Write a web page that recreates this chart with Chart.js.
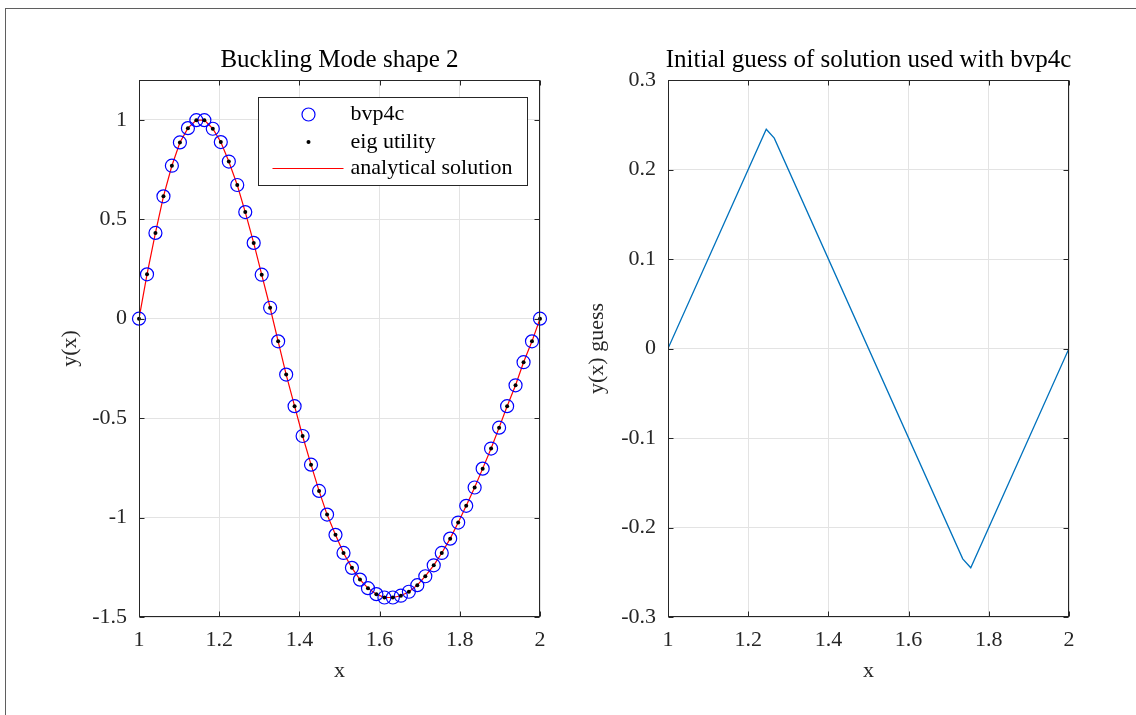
<!DOCTYPE html>
<html>
<head>
<meta charset="utf-8">
<title>Buckling mode shape</title>
<script src="https://cdn.jsdelivr.net/npm/chart.js@4.4.1/dist/chart.umd.min.js"></script>
<style>
    html, body { margin: 0; padding: 0; background: #fff; }
    body { width: 1136px; height: 715px; position: relative; overflow: hidden; }
    #frame { position: absolute; left: 5px; top: 8px; width: 1300px; height: 900px;
             border-left: 1px solid #5f5f5f; border-top: 1px solid #5f5f5f; }
    canvas { position: absolute; top: 0; }
</style>
</head>
<body>
<div id="frame"></div>
<canvas id="modeChart" width="568" height="715" style="left:0"></canvas>
<canvas id="guessChart" width="577" height="715" style="left:580px"></canvas>
<script>
// mesh used by bvp4c / eig (50 points between 1 and 2)
const meshX = [1.000, 1.020, 1.041, 1.061, 1.082, 1.102, 1.122, 1.143, 1.163, 1.184,
               1.204, 1.224, 1.245, 1.265, 1.286, 1.306, 1.327, 1.347, 1.367, 1.388,
               1.408, 1.429, 1.449, 1.469, 1.490, 1.510, 1.531, 1.551, 1.571, 1.592,
               1.612, 1.633, 1.653, 1.673, 1.694, 1.714, 1.735, 1.755, 1.776, 1.796,
               1.816, 1.837, 1.857, 1.878, 1.898, 1.918, 1.939, 1.959, 1.980, 2.000];
// the three solutions sit on top of each other in the picture
const modeY = [0.000, 0.223, 0.431, 0.615, 0.769, 0.886, 0.958, 0.998, 0.998, 0.955,
               0.888, 0.790, 0.672, 0.536, 0.381, 0.221, 0.055, -0.114, -0.281, -0.440,
               -0.590, -0.734, -0.866, -0.985, -1.087, -1.178, -1.253, -1.312, -1.355, -1.385,
               -1.402, -1.402, -1.393, -1.373, -1.340, -1.295, -1.240, -1.178, -1.106, -1.025,
               -0.941, -0.849, -0.754, -0.653, -0.548, -0.440, -0.335, -0.219, -0.114, 0.000];

const guessX = [1, 1.245, 1.265, 1.735, 1.755, 2];
const guessY = [0, 0.245, 0.235, -0.235, -0.245, 0];

const xTicks = [1, 1.2, 1.4, 1.6, 1.8, 2];
const modeYTicks = [-1.5, -1, -0.5, 0, 0.5, 1];
const guessYTicks = [-0.3, -0.2, -0.1, 0, 0.1, 0.2, 0.3];

const seriesNames = ['bvp4c', 'eig utility', 'analytical solution'];

const AXIS_COLOR = '#262626';
const GRID_COLOR = '#e3e3e3';
const FONT = "'Liberation Serif', 'Times New Roman', serif";

Chart.defaults.font.family = FONT;
Chart.defaults.font.size = 22;
Chart.defaults.color = AXIS_COLOR;

function toPoints(xs, ys) {
    return xs.map((x, i) => ({ x: x, y: ys[i] }));
}

// box round the axes, inward ticks on all four sides, optional legend
const matlabAxes = {
    id: 'matlabAxes',
    afterDatasetsDraw(chart) {
        const { ctx, chartArea: a, scales: { x, y } } = chart;
        const left = Math.round(a.left) + 0.5, right = Math.round(a.right) - 0.5;
        const top = Math.round(a.top) + 0.5, bottom = Math.round(a.bottom) - 0.5;
        ctx.save();
        ctx.strokeStyle = AXIS_COLOR;
        ctx.lineWidth = 1;
        ctx.beginPath();
        x.ticks.forEach(t => {
            const px = Math.round(x.getPixelForValue(t.value)) + 0.5;
            ctx.moveTo(px, bottom); ctx.lineTo(px, bottom - 5);
            ctx.moveTo(px, top); ctx.lineTo(px, top + 5);
        });
        y.ticks.forEach(t => {
            const py = Math.round(y.getPixelForValue(t.value)) + 0.5;
            ctx.moveTo(left, py); ctx.lineTo(left + 5, py);
            ctx.moveTo(right, py); ctx.lineTo(right - 5, py);
        });
        ctx.stroke();
        ctx.strokeRect(left, top, right - left, bottom - top);
        ctx.restore();
    },
    afterDraw(chart, args, opts) {
        if (!opts.legend) return;
        const { ctx, chartArea: a } = chart;
        const bx = Math.round(a.right) - 282 + 0.5, by = Math.round(a.top) + 17 + 0.5;
        ctx.save();
        ctx.fillStyle = '#fff';
        ctx.fillRect(bx, by, 269, 88);
        ctx.strokeStyle = AXIS_COLOR;
        ctx.lineWidth = 1;
        ctx.strokeRect(bx, by, 269, 88);
        const rows = [17, 44.5, 71];
        chart.data.datasets.forEach((ds, i) => {
            const cy = by + rows[i];
            if (ds.showLine) {
                ctx.strokeStyle = ds.borderColor;
                ctx.lineWidth = ds.borderWidth;
                ctx.beginPath();
                ctx.moveTo(bx + 14, cy); ctx.lineTo(bx + 85, cy);
                ctx.stroke();
            } else {
                ctx.beginPath();
                ctx.arc(bx + 50, cy, ds.pointRadius, 0, Math.PI * 2);
                if (ds.pointBorderWidth > 0) {
                    ctx.strokeStyle = ds.pointBorderColor;
                    ctx.lineWidth = ds.pointBorderWidth;
                    ctx.stroke();
                } else {
                    ctx.fillStyle = ds.pointBackgroundColor;
                    ctx.fill();
                }
            }
            ctx.fillStyle = '#000';
            ctx.font = '22px ' + FONT;
            ctx.textBaseline = 'middle';
            ctx.textAlign = 'left';
            ctx.fillText(ds.label, bx + 92, cy);
        });
        ctx.restore();
    }
};

function xScale() {
    return {
        type: 'linear',
        min: 1,
        max: 2,
        afterBuildTicks: s => { s.ticks = xTicks.map(v => ({ value: v })); },
        afterFit: s => { s.height = 98; },
        ticks: { padding: 10, callback: v => String(v) },
        grid: { color: GRID_COLOR, drawTicks: false },
        border: { display: false },
        title: { display: true, text: 'x', color: AXIS_COLOR, padding: { top: 0, bottom: 31 } }
    };
}

function yScale(min, max, tickValues, width, label, titlePad) {
    return {
        type: 'linear',
        min: min,
        max: max,
        afterBuildTicks: s => { s.ticks = tickValues.map(v => ({ value: v })); },
        afterFit: s => { s.width = width; },
        ticks: { padding: 12, callback: v => String(v) },
        grid: { color: GRID_COLOR, drawTicks: false },
        border: { display: false },
        title: { display: true, text: label, color: AXIS_COLOR, padding: { top: titlePad, bottom: 0 } }
    };
}

// empty scale on the right, only there to keep the title centred on the axes
function spacerScale(width) {
    return {
        type: 'linear',
        position: 'right',
        afterFit: s => { s.width = width; },
        ticks: { display: false },
        grid: { display: false, drawTicks: false },
        border: { display: false }
    };
}

function titleOptions(text, fullSize) {
    return {
        display: true,
        text: text,
        fullSize: fullSize,
        color: '#000',
        font: { size: 25, weight: 'normal' },
        padding: { top: 45, bottom: 5 }
    };
}

new Chart(document.getElementById('modeChart'), {
    type: 'scatter',
    data: {
        datasets: [
            {
                label: seriesNames[0],
                data: toPoints(meshX, modeY),
                showLine: false,
                pointRadius: 6.5,
                pointBorderWidth: 1.2,
                pointBorderColor: '#0000ff',
                pointBackgroundColor: 'rgba(0,0,0,0)',
                clip: false,
                order: 1
            },
            {
                label: seriesNames[1],
                data: toPoints(meshX, modeY),
                showLine: false,
                pointRadius: 2,
                pointBorderWidth: 0,
                pointBackgroundColor: '#000',
                clip: false,
                order: 0
            },
            {
                label: seriesNames[2],
                data: toPoints(meshX, modeY),
                showLine: true,
                borderColor: '#ff0000',
                borderWidth: 1.2,
                pointRadius: 0,
                tension: 0,
                order: 2
            }
        ]
    },
    options: {
        responsive: false,
        animation: false,
        layout: { padding: { left: 0, right: 28, top: 0, bottom: 0 } },
        plugins: {
            legend: { display: false },
            tooltip: { enabled: false },
            title: titleOptions('Buckling Mode shape 2', false),
            matlabAxes: { legend: true }
        },
        scales: {
            x: xScale(),
            y: yScale(-1.5, 1.2, modeYTicks, 139, 'y(x)', 57)
        }
    },
    plugins: [matlabAxes]
});

new Chart(document.getElementById('guessChart'), {
    type: 'scatter',
    data: {
        datasets: [{
            label: 'y(x) guess',
            data: toPoints(guessX, guessY),
            showLine: true,
            borderColor: '#0072bd',
            borderWidth: 1.3,
            pointRadius: 0,
            tension: 0
        }]
    },
    options: {
        responsive: false,
        animation: false,
        layout: { padding: 0 },
        plugins: {
            legend: { display: false },
            tooltip: { enabled: false },
            title: titleOptions('Initial guess of solution used with bvp4c', true),
            matlabAxes: { legend: false }
        },
        scales: {
            x: xScale(),
            y: yScale(-0.3, 0.3, guessYTicks, 88, 'y(x) guess', 4),
            spacer: spacerScale(88)
        }
    },
    plugins: [matlabAxes]
});
</script>
</body>
</html>
